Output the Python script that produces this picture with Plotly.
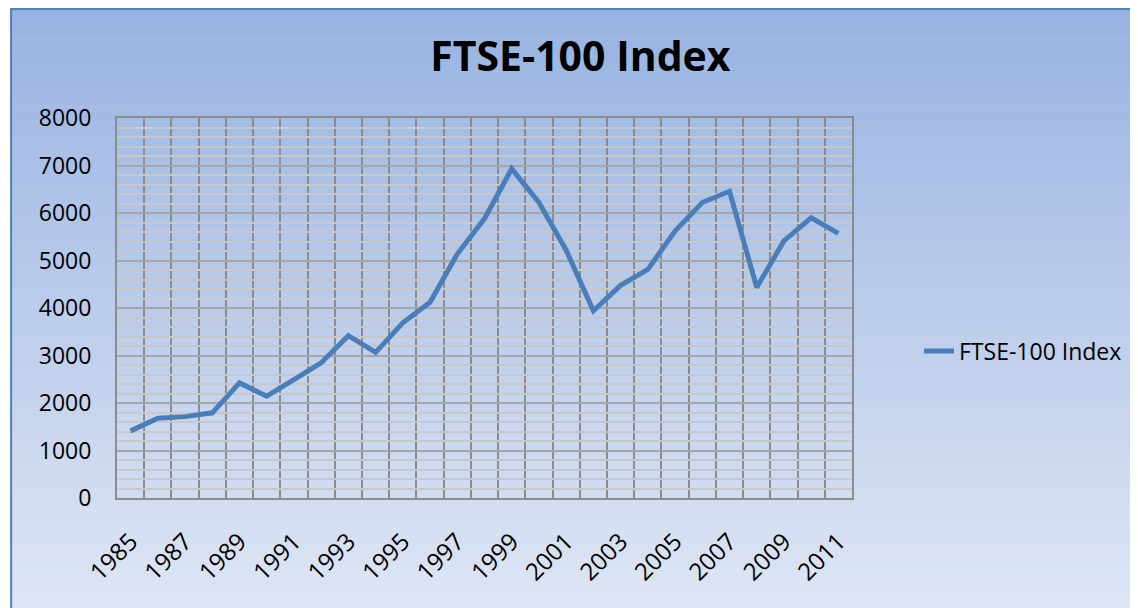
import plotly.graph_objects as go

# ---- data ----
years = list(range(1985, 2012))
ftse_values = [1413, 1679, 1713, 1793, 2423, 2144, 2493, 2847, 3418, 3066,
               3689, 4119, 5136, 5883, 6930, 6223, 5217, 3940, 4477, 4814,
               5619, 6221, 6457, 4434, 5413, 5900, 5572]
x_tick_labels = [str(y) for y in range(1985, 2012, 2)]
y_tick_values = list(range(0, 8001, 1000))
series_name = "FTSE-100 Index"
chart_title = "FTSE-100 Index"

# page offset of the figure (html body margin)
OX, OY = 8, 8
W, H = 1130, 600
# plot area in page pixels
P_LEFT, P_RIGHT, P_TOP, P_BOTTOM = 117, 853, 118, 498
ML = P_LEFT - OX
MT = P_TOP - OY
PW = P_RIGHT - P_LEFT
PH = P_BOTTOM - P_TOP
MR = W - ML - PW
MB = H - MT - PH


def px_to_paper_x(page_x):
    return (page_x - OX - ML) / PW


def py_to_paper_y(page_y):
    return (MT + PH - (page_y - OY)) / PH


FONT = "'Open Sans', Lato, sans-serif"

fig = go.Figure()
fig.add_trace(go.Scatter(
    x=years, y=ftse_values, mode="lines", name=series_name,
    line=dict(color="#4a7ebb", width=5),
))

# gradient background (chart area) made of thin stripes
shapes = []
top_c = (152, 179, 226)
bot_c = (222, 230, 244)
n = 80
y_start, y_end = 8, 612
step = (y_end - y_start) / n
for i in range(n):
    t = i / (n - 1)
    c = tuple(round(top_c[k] + (bot_c[k] - top_c[k]) * t) for k in range(3))
    y0p = y_start + i * step
    y1p = y_start + (i + 1) * step + 0.6
    shapes.append(dict(
        type="rect", xref="paper", yref="paper", layer="below",
        x0=px_to_paper_x(10), x1=px_to_paper_x(W + OX + 4),
        y0=py_to_paper_y(y1p), y1=py_to_paper_y(y0p),
        fillcolor="rgb(%d,%d,%d)" % c, line=dict(width=0),
    ))
# outer border (left and top edge)
shapes.append(dict(type="line", xref="paper", yref="paper", layer="below",
                   x0=px_to_paper_x(11), x1=px_to_paper_x(11),
                   y0=py_to_paper_y(614), y1=py_to_paper_y(9),
                   line=dict(color="#4f81bd", width=2)))
shapes.append(dict(type="line", xref="paper", yref="paper", layer="below",
                   x0=px_to_paper_x(10), x1=px_to_paper_x(W + OX + 4),
                   y0=py_to_paper_y(9), y1=py_to_paper_y(9),
                   line=dict(color="#4f81bd", width=2)))

fig.update_layout(
    width=W, height=H,
    margin=dict(l=ML, r=MR, t=MT, b=MB, pad=0),
    paper_bgcolor="white",
    plot_bgcolor="white",
    shapes=shapes,
    font=dict(family=FONT, color="black"),
    title=dict(text="<b>%s</b>" % chart_title, x=px_to_paper_x(581), xref="paper",
               xanchor="center", y=1 - (57 - OY) / H, yanchor="middle",
               font=dict(size=41, family=FONT, color="black")),
    showlegend=True,
    legend=dict(x=px_to_paper_x(919), xanchor="left",
                y=py_to_paper_y(351), yanchor="middle",
                bgcolor="rgba(0,0,0,0)", borderwidth=0,
                font=dict(size=23, family=FONT, color="black")),
    xaxis=dict(
        range=[1984.5, 2011.5],
        tickmode="array", tickvals=[int(v) for v in x_tick_labels], ticktext=x_tick_labels,
        tickangle=-45, tickfont=dict(size=24, family=FONT, color="black"),
        ticks="outside", ticklen=18, tickcolor="rgba(0,0,0,0)",
        showgrid=False, zeroline=False,
        showline=True, linecolor="#8c8c8c", linewidth=2, mirror=True,
        minor=dict(tick0=1984.5, dtick=1, showgrid=True, gridcolor="#8c8c8c",
                   gridwidth=2, ticks=""),
    ),
    yaxis=dict(
        range=[0, 8000], tickmode="array", tickvals=y_tick_values,
        tickfont=dict(size=23, family=FONT, color="black"),
        ticks="outside", ticklen=19, tickcolor="rgba(0,0,0,0)",
        showgrid=True, gridcolor="#a6a6a6", gridwidth=2,
        zeroline=False,
        showline=True, linecolor="#8c8c8c", linewidth=2, mirror=True,
        minor=dict(dtick=200, showgrid=True, gridcolor="#c8c8c8", gridwidth=2, ticks=""),
    ),
)

fig.write_html("out.html")
